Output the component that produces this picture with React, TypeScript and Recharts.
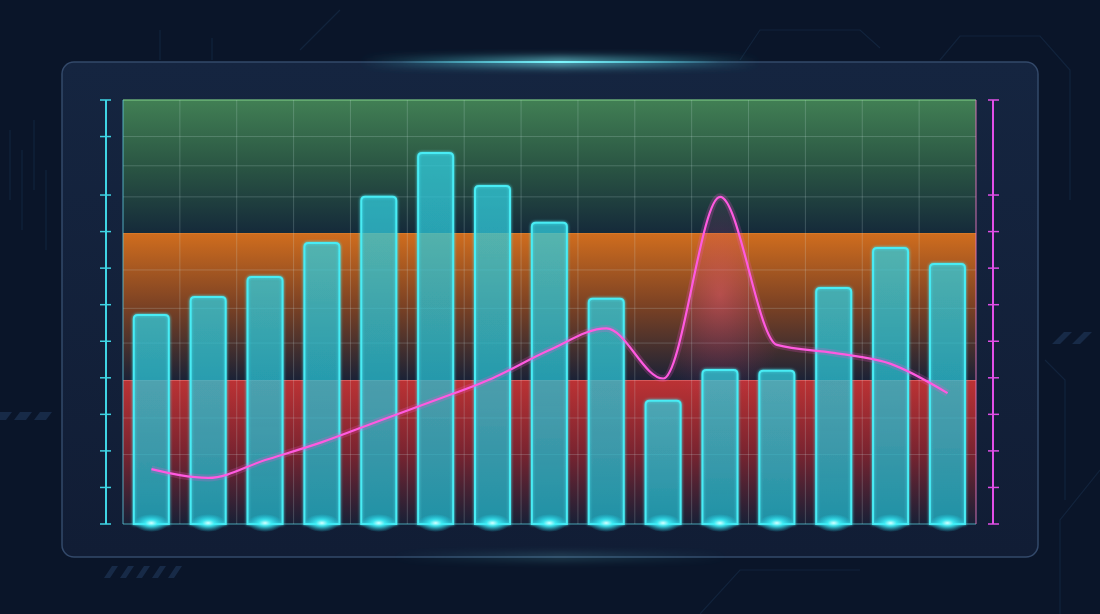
import React from 'react';
import { ComposedChart, Bar, Line, Area, XAxis, YAxis, ReferenceArea, ReferenceLine } from 'recharts';

// values, y scale 0..116
const periods = ['P01', 'P02', 'P03', 'P04', 'P05', 'P06', 'P07', 'P08', 'P09', 'P10', 'P11', 'P12', 'P13', 'P14', 'P15'];
const barValues = [57.2, 62.1, 67.6, 76.9, 89.5, 101.5, 92.5, 82.4, 61.6, 33.7, 42.1, 41.9, 64.6, 75.5, 71.1];
const lineValues = [15.0, 12.6, 17.5, 22.4, 28.2, 33.9, 39.9, 47.6, 53.5, 39.8, 89.5, 49.0, 46.8, 43.8, 35.8];
const leftTicks = [0, 10, 20, 30, 40, 50, 60, 70, 80, 90, 106, 116];
const rightTicks = [0, 10, 20, 30, 40, 50, 60, 70, 80, 90, 116];
const gridValues = [19, 29, 49.5, 59, 69.5, 89.5, 98, 106];
const bandIds = ['red', 'orange', 'green'];
const bandFrom = [0, 39.4, 79.6];
const bandTo = [39.4, 79.6, 116];

const data = periods.map((p, i) => ({ period: p, bar: barValues[i], line: lineValues[i] }));

const bandEdge: Record<string, string> = { red: '#e27070', orange: '#f28a2c', green: '#74c07e' };

const LeftTick = (props: any) => {
  const { x, y } = props;
  return <line x1={x - 6} x2={x + 5} y1={y} y2={y} stroke="#3fd4e4" strokeWidth={1.5} />;
};

const RightTick = (props: any) => {
  const { x, y } = props;
  return <line x1={x - 5} x2={x + 6} y1={y} y2={y} stroke="#e04fe6" strokeWidth={1.5} />;
};

const BandShape = (props: any) => {
  const { x, y, width, height, band } = props;
  return (
    <g>
      <rect x={x} y={y} width={width} height={height} fill={`url(#band-${band})`} />
      <line x1={x} x2={x + width} y1={y} y2={y} stroke={bandEdge[band]} strokeWidth={1.5} strokeOpacity={0.85} />
    </g>
  );
};

const GridShape = (props: any) => {
  const { x, y, width, color, opacity } = props;
  return <line x1={x} x2={x + width} y1={y} y2={y} stroke={color} strokeOpacity={opacity} strokeWidth={1} />;
};

const BarShape = (props: any) => {
  const { x, y, width, height } = props;
  if (!height || height <= 0) return null;
  const r = Math.min(4, width / 2, height);
  const d = `M${x},${y + height} L${x},${y + r} Q${x},${y} ${x + r},${y} L${x + width - r},${y} Q${x + width},${y} ${x + width},${y + r} L${x + width},${y + height} Z`;
  return (
    <g>
      <path d={d} fill="url(#barFill)" stroke="#48ecf4" strokeWidth={2} filter="url(#cyanGlow)" />
      <ellipse cx={x + width / 2} cy={y + height - 1} rx={width * 0.5} ry={9} fill="url(#baseGlow)" />
    </g>
  );
};

function Backdrop() {
  return (
    <svg width={1100} height={614} style={{ position: 'absolute', left: 0, top: 0 }}>
      <defs>
        <linearGradient id="panelFill" x1="0" y1="0" x2="0" y2="1">
          <stop offset="0" stopColor="#152540" />
          <stop offset="1" stopColor="#111d35" />
        </linearGradient>
        <linearGradient id="topGlow" x1="0" y1="0" x2="1" y2="0">
          <stop offset="0" stopColor="#4ff0ff" stopOpacity={0} />
          <stop offset="0.5" stopColor="#7ff8ff" stopOpacity={1} />
          <stop offset="1" stopColor="#4ff0ff" stopOpacity={0} />
        </linearGradient>
        <filter id="blur6" x="-20%" y="-300%" width="140%" height="700%">
          <feGaussianBlur stdDeviation="4" />
        </filter>
      </defs>
      <g stroke="#1a3150" strokeOpacity={0.5} fill="none" strokeWidth={1.2}>
        <path d="M10 130 L10 200 M22 150 L22 230 M34 120 L34 190 M46 170 L46 250" />
        <path d="M160 60 L160 30 M212 60 L212 38" />
        <path d="M300 50 L340 10" />
        <path d="M740 60 L760 30 L860 30 L880 48" />
        <path d="M940 60 L960 36 L1040 36 L1070 70 L1070 200" />
        <path d="M1045 360 L1065 380 L1065 500 M1100 470 L1060 520 L1060 614" />
        <path d="M700 614 L740 570 L860 570" />
      </g>
      <g fill="#1d3354" fillOpacity={0.7}>
        <path d="M0 412 L12 412 L6 420 L-6 420 Z M20 412 L32 412 L26 420 L14 420 Z M40 412 L52 412 L46 420 L34 420 Z" />
        <path d="M1052 344 L1064 332 L1072 332 L1060 344 Z M1072 344 L1084 332 L1092 332 L1080 344 Z" />
        <path d="M104 578 L112 566 L118 566 L110 578 Z M120 578 L128 566 L134 566 L126 578 Z M136 578 L144 566 L150 566 L142 578 Z M152 578 L160 566 L166 566 L158 578 Z M168 578 L176 566 L182 566 L174 578 Z" />
      </g>
      <rect x={62} y={62} width={976} height={495} rx={12} fill="url(#panelFill)" stroke="#33496a" strokeWidth={1.5} />
      <rect x={360} y={58} width={400} height={8} fill="url(#topGlow)" filter="url(#blur6)" opacity={0.8} />
      <rect x={400} y={61} width={320} height={2} fill="url(#topGlow)" />
      <rect x={390} y={555} width={340} height={4} fill="url(#topGlow)" filter="url(#blur6)" opacity={0.35} />
    </svg>
  );
}

export default function App() {
  return (
    <div style={{ position: 'absolute', left: 0, top: 0, width: 1100, height: 614, background: '#0a1529', overflow: 'hidden' }}>
      <Backdrop />
      <div style={{ position: 'absolute', left: 0, top: 0 }}>
        <ComposedChart width={1100} height={614} data={data} margin={{ top: 100, right: 106, bottom: 90, left: 105 }} barCategoryGap="19%">
          <defs>
            <linearGradient id="band-green" x1="0" y1="0" x2="0" y2="1">
              <stop offset="0" stopColor="#417f54" />
              <stop offset="0.5" stopColor="#2a5543" />
              <stop offset="1" stopColor="#152a3a" />
            </linearGradient>
            <linearGradient id="band-orange" x1="0" y1="0" x2="0" y2="1">
              <stop offset="0" stopColor="#d06d1e" />
              <stop offset="0.5" stopColor="#7a4124" />
              <stop offset="1" stopColor="#1b2236" />
            </linearGradient>
            <linearGradient id="band-red" x1="0" y1="0" x2="0" y2="1">
              <stop offset="0" stopColor="#bc3234" />
              <stop offset="0.5" stopColor="#7a2430" />
              <stop offset="1" stopColor="#182036" />
            </linearGradient>
            <linearGradient id="barFill" x1="0" y1="0" x2="0" y2="1">
              <stop offset="0" stopColor="#30cada" stopOpacity={0.52} />
              <stop offset="1" stopColor="#22b8cc" stopOpacity={0.5} />
            </linearGradient>
            <radialGradient id="baseGlow" cx="0.5" cy="0.5" r="0.5">
              <stop offset="0" stopColor="#d8ffff" stopOpacity={1} />
              <stop offset="0.35" stopColor="#3ff0f8" stopOpacity={0.85} />
              <stop offset="1" stopColor="#20d8f0" stopOpacity={0} />
            </radialGradient>
            <radialGradient id="peakTint" cx="0.5" cy="0.5" r="0.5" gradientTransform="translate(0.714 0.3) scale(0.17 0.7) translate(-0.5 -0.5)">
              <stop offset="0" stopColor="#ff5a90" stopOpacity={0.38} />
              <stop offset="0.6" stopColor="#d0408a" stopOpacity={0.15} />
              <stop offset="1" stopColor="#b03080" stopOpacity={0} />
            </radialGradient>
            <filter id="cyanGlow" x="-30%" y="-10%" width="160%" height="120%">
              <feGaussianBlur in="SourceGraphic" stdDeviation="1.6" result="b" />
              <feMerge>
                <feMergeNode in="b" />
                <feMergeNode in="SourceGraphic" />
              </feMerge>
            </filter>
          </defs>
          <XAxis dataKey="period" hide padding={{ left: 17, right: 17 }} />
          <YAxis
            yAxisId="left"
            domain={[0, 116]}
            ticks={leftTicks}
            interval={0}
            width={1}
            tickLine={false}
            tickSize={0}
            tickMargin={0}
            axisLine={{ stroke: '#3fd4e4', strokeWidth: 2 }}
            tick={<LeftTick />}
          />
          <YAxis
            yAxisId="right"
            orientation="right"
            domain={[0, 116]}
            ticks={rightTicks}
            interval={0}
            width={1}
            tickLine={false}
            tickSize={0}
            tickMargin={0}
            axisLine={{ stroke: '#e24fe8', strokeWidth: 2 }}
            tick={<RightTick />}
          />
          {bandIds.map((b, i) => (
            <ReferenceArea
              key={b}
              yAxisId="left"
              x1={periods[0]}
              x2={periods[periods.length - 1]}
              y1={bandFrom[i]}
              y2={bandTo[i]}
              shape={(p: any) => <BandShape {...p} band={b} />}
            />
          ))}
          {gridValues.map((v) => (
            <ReferenceArea
              key={`g${v}`}
              yAxisId="left"
              x1={periods[0]}
              x2={periods[periods.length - 1]}
              y1={v}
              y2={v}
              shape={(p: any) => <GridShape {...p} color="#d8f0ee" opacity={0.2} />}
            />
          ))}
          <ReferenceArea
            yAxisId="left"
            x1={periods[0]}
            x2={periods[periods.length - 1]}
            y1={0}
            y2={0}
            shape={(p: any) => <GridShape {...p} color="#5fdde8" opacity={0.7} />}
          />
          {periods.slice(1).map((p) => (
            <ReferenceLine key={`v${p}`} yAxisId="left" x={p} position="start" stroke="#d8f0ee" strokeOpacity={0.2} strokeWidth={1} />
          ))}
          <ReferenceLine yAxisId="left" x={periods[0]} position="start" stroke="#5fc8dc" strokeOpacity={0.55} strokeWidth={1.5} />
          <ReferenceLine yAxisId="left" x={periods[periods.length - 1]} position="end" stroke="#e87ac0" strokeOpacity={0.6} strokeWidth={1.5} />
          <Bar yAxisId="left" dataKey="bar" shape={<BarShape />} isAnimationActive={false} />
          <Area yAxisId="right" type="monotone" dataKey="line" stroke="none" fill="url(#peakTint)" fillOpacity={1} dot={false} activeDot={false} isAnimationActive={false} />
          <Line yAxisId="right" type="monotone" dataKey="line" stroke="#ff4fd8" strokeOpacity={0.2} strokeWidth={7} dot={false} activeDot={false} isAnimationActive={false} />
          <Line yAxisId="right" type="monotone" dataKey="line" stroke="#ff5ae0" strokeWidth={2.2} dot={false} activeDot={false} isAnimationActive={false} />
        </ComposedChart>
      </div>
    </div>
  );
}
